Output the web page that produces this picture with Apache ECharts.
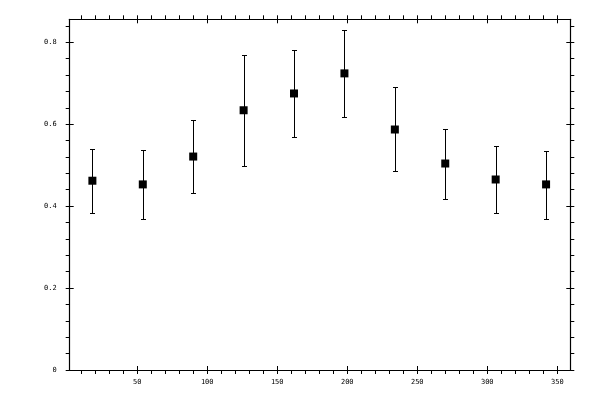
<!DOCTYPE html>
<html>
<head>
<meta charset="utf-8">
<script src="https://cdn.jsdelivr.net/npm/echarts@6/dist/echarts.min.js"></script>
<style>
  html, body { margin: 0; padding: 0; background: #fff; }
  #chart { width: 600px; height: 400px; }
</style>
</head>
<body>
<div id="chart"></div>
<script>
const xValues = [18, 54, 90, 126, 162, 198, 234, 270, 306, 342];
const yValues = [0.462, 0.453, 0.521, 0.634, 0.675, 0.724, 0.587, 0.504, 0.465, 0.453];
const yLow = [0.382, 0.369, 0.433, 0.497, 0.568, 0.617, 0.485, 0.418, 0.384, 0.369];
const yHigh = [0.540, 0.537, 0.610, 0.768, 0.782, 0.831, 0.690, 0.589, 0.547, 0.535];

const xMajorTicks = [50, 100, 150, 200, 250, 300, 350];
const yMajorTicks = [0, 0.2, 0.4, 0.6, 0.8];

const xMinorTicks = [];
for (let v = 10; v <= 350; v += 10) xMinorTicks.push(v);
const yMinorTicks = [];
for (let i = 0; i <= 21; i++) yMinorTicks.push(Math.round(i * 4) / 100);

const xRange = { min: 1.8, max: 359.3 };
const yRange = { min: 0, max: 0.856 };

const font = { fontFamily: 'DejaVu Sans Mono', fontSize: 7, color: '#000' };
const lineStyle = { color: '#000', width: 1.2 };

function axis(kind, position, ticks, inside, withLine, withLabel, labels) {
  const range = kind === 'x' ? xRange : yRange;
  return {
    type: 'value',
    position: position,
    min: range.min,
    max: range.max,
    splitLine: { show: false },
    axisLine: { show: withLine, onZero: false, lineStyle: lineStyle },
    axisTick: {
      show: true,
      inside: inside,
      length: 4,
      customValues: ticks,
      lineStyle: { color: '#000', width: 1 }
    },
    axisLabel: withLabel
      ? Object.assign({ show: true, customValues: labels, margin: kind === 'x' ? 9 : 13 }, font)
      : { show: false }
  };
}

const errorData = xValues.map((x, i) => [x, yLow[i], yHigh[i]]);
const pointData = xValues.map((x, i) => [x, yValues[i]]);

const chart = echarts.init(document.getElementById('chart'), null, { renderer: 'canvas' });
chart.setOption({
  animation: false,
  backgroundColor: '#fff',
  grid: { left: 69.7, right: 29.7, top: 19.3, bottom: 30, containLabel: false },
  xAxis: [
    axis('x', 'bottom', xMinorTicks, false, true, true, xMajorTicks),
    axis('x', 'bottom', xMajorTicks, true, false, false),
    axis('x', 'top', xMinorTicks, false, true, false),
    axis('x', 'top', xMajorTicks, true, false, false)
  ],
  yAxis: [
    axis('y', 'left', yMinorTicks, false, true, true, yMajorTicks),
    axis('y', 'left', yMajorTicks, true, false, false),
    axis('y', 'right', yMinorTicks, false, true, false),
    axis('y', 'right', yMajorTicks, true, false, false)
  ],
  series: [
    {
      type: 'custom',
      xAxisIndex: 0,
      yAxisIndex: 0,
      data: errorData,
      renderItem: function (params, api) {
        const top = api.coord([api.value(0), api.value(2)]);
        const bot = api.coord([api.value(0), api.value(1)]);
        const cx = Math.round(top[0]) + 0.5;
        const ty = Math.round(top[1]) + 0.5;
        const by = Math.round(bot[1]) + 0.5;
        const w = 2.5;
        const style = { stroke: '#000', lineWidth: 1 };
        return {
          type: 'group',
          children: [
            { type: 'line', shape: { x1: cx, y1: ty, x2: cx, y2: by }, style: style },
            { type: 'line', shape: { x1: cx - w, y1: ty, x2: cx + w, y2: ty }, style: style },
            { type: 'line', shape: { x1: cx - w, y1: by, x2: cx + w, y2: by }, style: style }
          ]
        };
      },
      z: 2
    },
    {
      type: 'scatter',
      xAxisIndex: 0,
      yAxisIndex: 0,
      data: pointData,
      symbol: 'rect',
      symbolSize: 8,
      itemStyle: { color: '#000', opacity: 1 },
      z: 3
    }
  ]
});
</script>
</body>
</html>
